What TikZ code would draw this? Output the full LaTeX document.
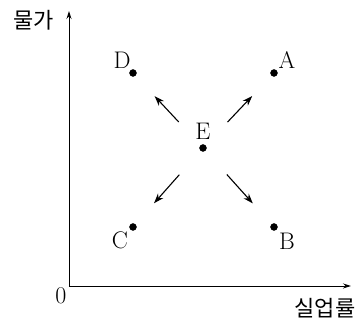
\documentclass[tikz,border=0pt]{standalone}
\usepackage{fontspec}
\newfontfamily\kfont{Noto Sans CJK KR}
\usetikzlibrary{arrows.meta}

\begin{document}
\begin{tikzpicture}[x=1pt,y=1pt,font=\fontsize{24}{24}\selectfont,
	dot/.style={circle, inner sep=0pt, minimum size=7pt, fill=black, draw=black},
	move/.style={line width=1.1pt, -{Stealth[length=10pt,width=7pt]}, shorten <=32pt, shorten >=28pt}]
		\useasboundingbox (0,0) rectangle (360,320);
		\coordinate (o) at (69,34);
		\coordinate (xe) at (351,34);
		\coordinate (ye) at (69,309);
		\draw[line width=0.9pt, -{Stealth[length=8pt,width=5pt]}] (o) -- (xe);
		\draw[line width=0.9pt, -{Stealth[length=8pt,width=5pt]}] (o) -- (ye);
		\node (zero) at (61,24) {0};
		\node (xlab) at (325,12) {\kfont\fontsize{22}{22}\selectfont 실업률};
		\node (ylab) at (34,300) {\kfont\fontsize{22}{22}\selectfont 물가};
		\node[dot] (D) at (133,247){};
		\node[dot] (A) at (274,247){};
		\node[dot] (E) at (203,172){};
		\node[dot] (C) at (133,93){};
		\node[dot] (B) at (274,93){};
		\node (lD) at (122,260) {D};
		\node (lA) at (287,260) {A};
		\node (lE) at (203,189) {E};
		\node (lC) at (120,80) {C};
		\node (lB) at (287,79) {B};
		\draw[move] (E) -- (D);
		\draw[move] (E) -- (A);
		\draw[move] (E) -- (C);
		\draw[move] (E) -- (B);
		\end{tikzpicture}
\end{document}
